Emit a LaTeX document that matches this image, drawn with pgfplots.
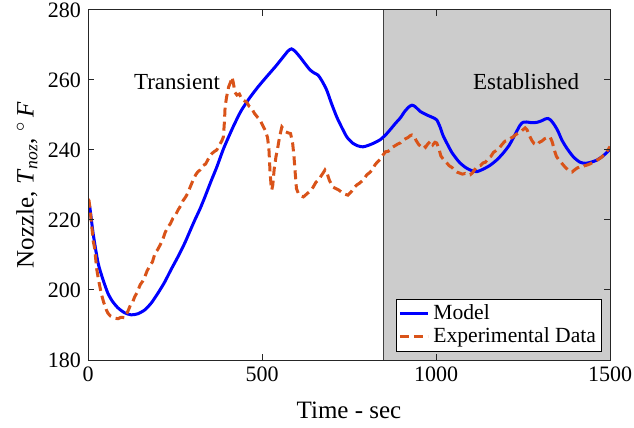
\documentclass[border=0pt]{standalone}
\usepackage{fontspec}
\setmainfont{Liberation Serif}
\usepackage{pgfplots}
\pgfplotsset{compat=1.18}
\definecolor{mblue}{RGB}{0,0,255}
\definecolor{morange}{RGB}{217,83,25}
\definecolor{mgray}{RGB}{204,204,204}
\begin{document}
\begin{tikzpicture}
\useasboundingbox (0,0) rectangle (317bp,214bp);
\begin{axis}[
  name=ax,
  at={(44bp,34bp)}, anchor=south west,
  scale only axis,
  width=261bp, height=175bp,
  xmin=0, xmax=1500, ymin=180, ymax=280,
  xtick={0,500,1000,1500},
  ytick={180,200,220,240,260,280},
  tick align=inside,
  major tick length=3bp,
  axis on top,
  axis line style={black!85, line width=0.5bp},
  every tick/.style={black!85, line width=0.5bp},
  /pgf/number format/assume math mode=true,
  scaled x ticks=false,
  xticklabel style={font=\fontsize{11bp}{13bp}\selectfont},
  yticklabel style={font=\fontsize{11bp}{13bp}\selectfont},
  /pgf/number format/1000 sep={},
  xlabel={Time - sec},
  ylabel={Nozzle, \textit{T}\textsubscript{\textit{noz}}, $^\circ$\,\textit{F}},
  label style={font=\fontsize{12.5bp}{14bp}\selectfont},
  xlabel style={at={(axis description cs:0.5,-0.143)}, anchor=center},
  ylabel style={at={(axis description cs:-0.117,0.5)}, anchor=center},
  legend style={at={(1,0)}, anchor=south east, xshift=-4bp, yshift=4bp,
    font=\fontsize{10.8bp}{12bp}\selectfont, draw=black, line width=0.5bp,
    inner sep=0.8bp, row sep=-1.5bp, cells={anchor=west}},
  legend image code/.code={\draw[#1] (0bp,0bp) -- (14bp,0bp);},
]
\addplot[fill=mgray, draw=black!75, line width=0.5bp, forget plot] coordinates {(850,180) (1500,180) (1500,280) (850,280)} -- cycle;

\addplot[mblue, line width=1.5bp, smooth, tension=0.4] coordinates {
(0,225)(5,223.8)(15,216)(29,207.7)(43,203)(57,199.1)(70,196.8)(86,194.9)(105,193.5)(124,192.9)(143,193.2)(163,194.3)(182,196.3)(201,199.1)(220,202.2)(238,205.7)(258,209.4)(278,213.4)(292,216.6)(307,220)(322,223.2)(336,226.6)(354,231.2)(370,235.1)(390,240.5)(417,246.6)(440,251.2)(466,255.1)(490,258.2)(513,260.9)(540,264)(561,266.6)(575,268.3)(585,268.9)(595,268.2)(609,266.6)(625,264.5)(638,262.9)(650,262)(661,261.4)(672,259.8)(686,257.1)(700,253.2)(715,249.4)(730,246.3)(744,243.7)(760,242)(775,241.2)(790,240.9)(805,241.3)(822,242)(839,242.9)(855,244.3)(870,246)(885,247.8)(897,249.1)(910,251)(922,252.3)(931,252.8)(940,252.4)(955,251)(974,250)(990,249.3)(1002,248.6)(1012,246.5)(1020,244.2)(1031,242)(1045,239.4)(1058,237.6)(1069,236.3)(1085,235)(1100,234.2)(1117,233.8)(1135,234.5)(1155,235.6)(1175,237.2)(1193,239.1)(1210,241.3)(1225,244)(1241,247)(1250,247.9)(1261,248)(1275,247.8)(1290,247.9)(1305,248.4)(1315,248.9)(1322,249)(1330,248.5)(1340,247.2)(1350,245.5)(1362,242.8)(1376,240.5)(1395,238)(1414,236.5)(1430,236.2)(1445,236.5)(1462,237.1)(1480,238.3)(1500,240.2)
};
\addlegendentry{Model}

\addplot[morange, line width=1.5bp, dash pattern=on 4.5bp off 2.5bp] coordinates {
(0,226)(3,225.5)(6,223)(10,219)(15,214)(19,212)(25,206)(30,203)(38,199)(45,196.5)(52,194.5)(57,193.4)(65,192.5)(75,192)(86,191.8)(95,192.2)(106,192.1)(115,194)(122,195.7)(128,196.5)(134,198)(142,199.5)(150,201.5)(157,202.5)(163,203.7)(170,205.5)(178,207)(185,208)(193,210.6)(200,211.5)(208,213)(215,214.5)(222,216.5)(230,218)(237,219)(244,220.5)(252,221.5)(259,222.9)(266,224)(273,225.5)(280,226.5)(287,227.7)(294,229.5)(302,231.4)(310,233)(316,233.8)(322,234.3)(330,235.5)(338,236)(346,237.5)(354,238.8)(362,239.5)(370,240)(378,241.5)(384,242.5)(389,243.7)(392,248)(394,252.3)(398,255)(404,258)(410,259.5)(414,260.8)(418,259)(422,256.5)(428,255.7)(435,256)(442,254.5)(450,254)(456,253.7)(463,252.5)(470,252)(478,250.5)(486,249.5)(494,248.6)(502,247)(510,245.5)(516,243.5)(520,240)(523,234)(526,230)(528,228.6)(531,230)(535,234.5)(540,238)(545,240.5)(550,243.5)(557,246.6)(562,246)(568,245.2)(575,244.9)(582,244.7)(588,242)(592,238)(595,234)(599,229)(604,227.7)(610,227)(619,226.6)(627,227.3)(635,228)(641,228.5)(647,229.4)(655,230.8)(663,231.5)(670,232.6)(676,233.5)(681,234.3)(687,233.4)(693,231.5)(698,230.5)(704,229.4)(712,229)(720,228.6)(728,228)(737,227.4)(747,227.1)(756,228)(764,229.2)(772,230)(780,230.5)(788,231.2)(795,232)(801,232.9)(810,233.6)(818,234.5)(825,235.8)(832,236.6)(840,237.4)(848,238.6)(855,239.5)(862,239.6)(868,240)(875,240.8)(882,241.2)(890,241.7)(897,242)(904,242.7)(912,243.2)(920,243.6)(926,244.1)(931,244.3)(937,244)(943,242.7)(950,241.6)(956,241)(963,241.5)(970,240.8)(977,241.8)(985,242.6)(991,241.5)(997,242.2)(1002,242)(1008,240.5)(1014,238.3)(1020,237.5)(1026,236.8)(1031,236.3)(1038,235.5)(1046,235)(1053,234.2)(1060,233.7)(1068,233.4)(1076,233.1)(1084,233.3)(1091,232.9)(1098,232.9)(1105,233.5)(1112,234.5)(1120,235.4)(1128,235.6)(1135,236.3)(1142,236.5)(1150,237.6)(1158,238.2)(1165,239.3)(1175,240)(1183,240.7)(1190,241.6)(1198,242.5)(1207,242.8)(1215,243.4)(1221,243.7)(1228,244.3)(1236,244.8)(1244,245.3)(1250,245.8)(1256,246.3)(1262,245.7)(1268,244.2)(1275,242.8)(1282,241.8)(1290,241.4)(1297,242.2)(1305,242.6)(1312,243.2)(1320,243.5)(1328,243.7)(1334,242.3)(1340,240)(1346,238.2)(1352,237.3)(1358,236.6)(1365,235.8)(1372,235)(1380,234.3)(1386,233.8)(1391,233.7)(1398,234.3)(1405,234.8)(1413,235.2)(1420,235.1)(1427,235.5)(1434,235.7)(1442,236)(1450,236.4)(1458,236.8)(1466,237.3)(1474,237.8)(1482,238.6)(1490,239.5)(1496,240.3)(1500,241)
};
\addlegendentry{Experimental Data}

\node[font=\fontsize{11.5bp}{13bp}\selectfont] at (axis cs:256,259.4) {Transient};
\node[font=\fontsize{11.5bp}{13bp}\selectfont] at (axis cs:1259,259.4) {Established};
\end{axis}
\end{tikzpicture}
\end{document}
